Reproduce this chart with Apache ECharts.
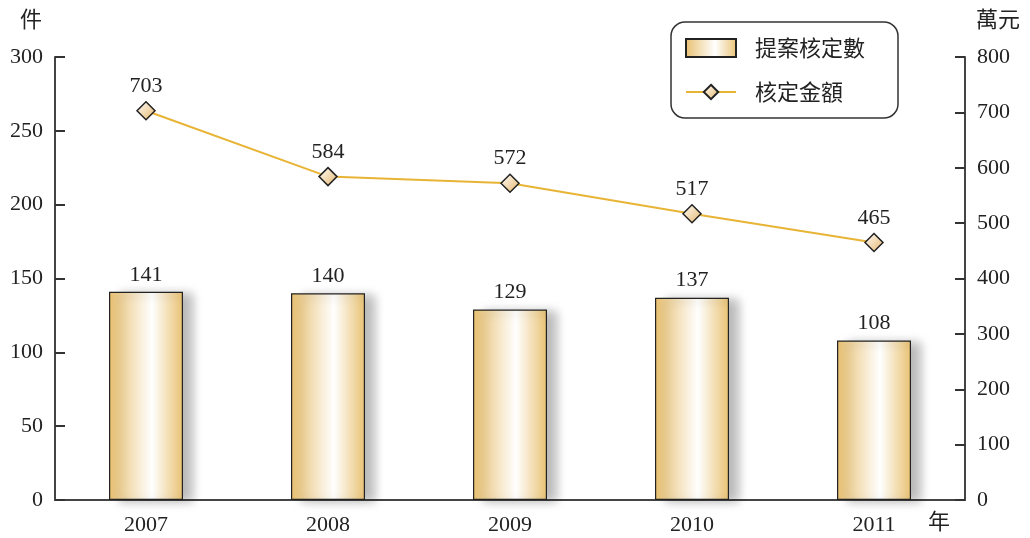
<!DOCTYPE html>
<html>
<head>
<meta charset="utf-8">
<script src="https://cdn.jsdelivr.net/npm/echarts@6/dist/echarts.min.js"></script>
<style>
  html, body { margin: 0; padding: 0; background: #fff; }
  #main { width: 1030px; height: 538px; }
</style>
</head>
<body>
<div id="main"></div>
<script>
// data
var years = ['2007', '2008', '2009', '2010', '2011'];
var caseCounts = [141, 140, 129, 137, 108];
var amounts = [703, 584, 572, 517, 465];

var serif = '"Liberation Serif", "DejaVu Serif", serif';
var cjk = '"Noto Sans CJK TC", "Noto Sans CJK SC", sans-serif';

var chart = echarts.init(document.getElementById('main'));

var barFill = new echarts.graphic.LinearGradient(0, 0, 1, 0, [
  { offset: 0, color: '#e8c070' },
  { offset: 0.58, color: '#ffffff' },
  { offset: 1, color: '#e9c273' }
]);
var dotFill = new echarts.graphic.LinearGradient(0, 0, 1, 1, [
  { offset: 0, color: '#ffffff' },
  { offset: 1, color: '#e5b66a' }
]);

var axisLine = { show: true, lineStyle: { color: '#444', width: 2 } };

chart.setOption({
  animation: false,
  grid: { left: 55, right: 65, top: 57, bottom: 38 },
  legend: {
    left: 671, top: 22,
    orient: 'vertical',
    padding: [15, 33, 15, 14],
    itemGap: 22,
    itemWidth: 50,
    itemHeight: 18,
    borderColor: '#333',
    borderWidth: 1.5,
    borderRadius: 14,
    textStyle: { fontFamily: cjk, fontSize: 22, color: '#222', padding: [0, 0, 0, 14] },
    data: [{ name: '提案核定數', icon: 'rect' }, { name: '核定金額' }]
  },
  graphic: [
    { type: 'text', left: 20, top: 8, style: { text: '件', font: '22px ' + cjk, fill: '#222' } },
    { type: 'text', left: 976, top: 8, style: { text: '萬元', font: '22px ' + cjk, fill: '#222' } },
    { type: 'text', left: 928, top: 510, style: { text: '年', font: '22px ' + cjk, fill: '#222' } }
  ],
  xAxis: {
    type: 'category',
    data: years,
    axisLine: axisLine,
    axisTick: { show: false },
    axisLabel: { fontFamily: serif, fontSize: 22, color: '#222', margin: 14 }
  },
  yAxis: [
    {
      type: 'value', min: 0, max: 300, interval: 50,
      axisLine: axisLine,
      axisTick: { show: true, inside: true, length: 10, lineStyle: { color: '#333', width: 2 } },
      splitLine: { show: false },
      axisLabel: { fontFamily: serif, fontSize: 22, color: '#222', margin: 12 }
    },
    {
      type: 'value', min: 0, max: 800, interval: 100,
      position: 'right',
      axisLine: axisLine,
      axisTick: { show: true, inside: true, length: 10, lineStyle: { color: '#333', width: 2 } },
      splitLine: { show: false },
      axisLabel: { fontFamily: serif, fontSize: 22, color: '#222', margin: 12 }
    }
  ],
  series: [
    {
      name: '提案核定數',
      type: 'bar',
      data: caseCounts,
      barWidth: 74,
      itemStyle: {
        color: barFill,
        borderColor: '#222',
        borderWidth: 1.2,
        shadowColor: 'rgba(0,0,0,0.28)',
        shadowBlur: 10,
        shadowOffsetX: 10,
        shadowOffsetY: 2
      },
      label: { show: true, position: 'top', distance: 6, fontFamily: serif, fontSize: 22, color: '#222' }
    },
    {
      name: '核定金額',
      type: 'line',
      yAxisIndex: 1,
      data: amounts,
      symbol: 'diamond',
      symbolSize: 18,
      lineStyle: { color: '#e8b436', width: 2 },
      itemStyle: { color: dotFill, borderColor: '#222', borderWidth: 1.5 },
      label: { show: true, position: 'top', distance: 4, fontFamily: serif, fontSize: 22, color: '#222' }
    }
  ]
});
</script>
</body>
</html>
